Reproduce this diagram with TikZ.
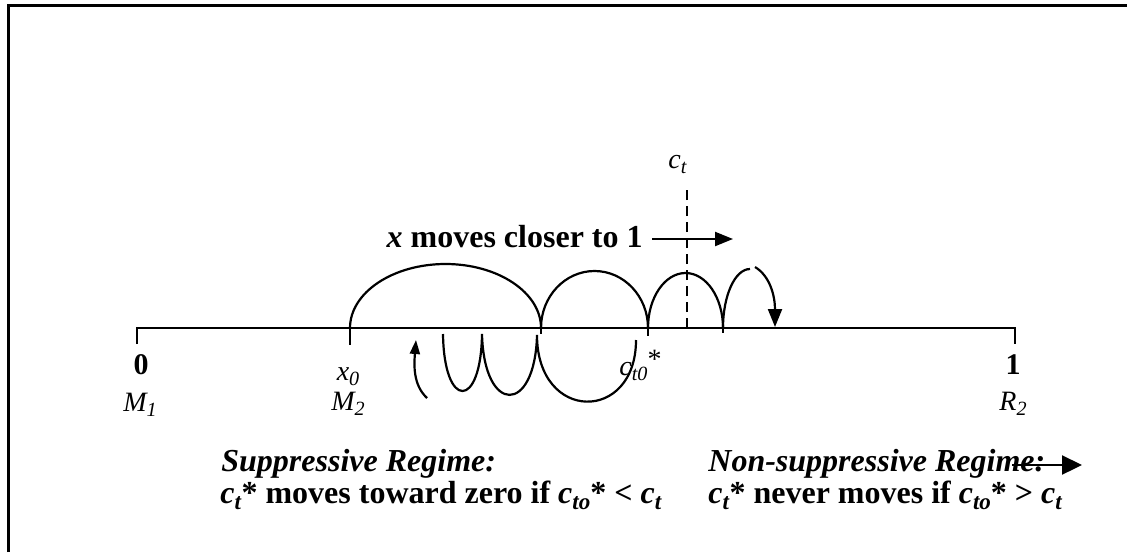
\documentclass[tikz,border=0pt]{standalone}
\usepackage{fontspec}
\setmainfont{Liberation Serif}
\usetikzlibrary{arrows.meta}
\newcommand{\lo}[1]{\raisebox{-0.45ex}{\scalebox{0.72}{#1}}}
\newcommand{\cvar}[1]{\textit{c}\lo{\textit{#1}}}

\begin{document}
\begin{tikzpicture}[
  x=0.5pt, y=-0.5pt,
  line/.style={line width=1.1pt},
  hop/.style={line width=1.1pt},
  tag/.style={inner sep=0pt, anchor=base, font=\fontsize{14}{16}\selectfont\itshape},
  num/.style={inner sep=0pt, font=\fontsize{15}{17}\selectfont\bfseries},
  note/.style={inner sep=0pt, anchor=base west, font=\fontsize{16}{18}\selectfont\bfseries},
  head/.style={note, font=\fontsize{16}{18}\selectfont\bfseries\itshape},
  >={Triangle[length=9pt,width=7pt]}
]
  \useasboundingbox (0,0) rectangle (1127,552);
  \draw[line width=1.5pt] (8,552) -- (8,5) -- (1127,5);
  % points on the line
  \coordinate (M1) at (137,328);
  \coordinate (R2) at (1015,328);
  \coordinate (x0) at (350,328);
  \coordinate (h1) at (541,328);
  \coordinate (c0) at (648,328);
  \coordinate (h3) at (723,328);
  \coordinate (ct) at (687,328);
  \coordinate (cttop) at (687,187);
  \draw[line] ([yshift=-8pt]M1) -- (M1) -- (R2) -- ([yshift=-8pt]R2);
  \draw[line] (x0) -- ++(0,17);
  \draw[line] (h1) -- ++(0,6);
  \draw[line] (c0) -- ++(0,8);
  \draw[line] (h3) -- ++(0,5);
  \draw[line, dash pattern=on 5pt off 3pt] (ct) -- (cttop);
  % labels
  \node[num] (zero) at (141,365) {0};
  \node[tag] (m1) at (140,411) {M\lo{\textit{1}}};
  \node[num] (one) at (1013,365) {1};
  \node[tag] (r2) at (1013,410) {R\lo{\textit{2}}};
  \node[tag] (x0lab) at (348,380) {x\lo{\textit{0}}};
  \node[tag] (m2) at (348,410) {M\lo{\textit{2}}};
  \node[tag, anchor=base west] (c0lab) at (619,375) {c\lo{\textit{t0}}\raisebox{0.5ex}{\textup{*}}};
  \node[tag, anchor=base west] (ctlab) at (668,168) {c\lo{t}};
  % hops above the line
  \draw[hop] (x0) arc[start angle=180, end angle=360, x radius=95.5, y radius=64];
  \draw[hop] (h1) arc[start angle=180, end angle=360, x radius=53.5, y radius=57];
  \draw[hop] (c0) arc[start angle=180, end angle=360, x radius=37.5, y radius=55];
  \draw[hop] (h3) arc[start angle=180, end angle=270, x radius=27, y radius=59];
  \coordinate (d0) at (755,267);
  \coordinate (d1) at (775,327);
  \draw[hop, ->] (d0) .. controls (770,276) and (775,296) .. (d1);
  % hops below the line
  \coordinate (u0) at (443,334);
  \coordinate (u1) at (482,334);
  \coordinate (u2) at (537,335);
  \coordinate (u3) at (636,340);
  \draw[hop] (u0) .. controls +(1,76) and +(-1,76) .. (u1)
                  .. controls +(2,81) and +(-2,80) .. (u2)
                  .. controls +(0,88) and +(0,83) .. (u3);
  \coordinate (s0) at (427,398);
  \coordinate (s1) at (416,340);
  \draw[hop, -{Triangle[length=7pt,width=5pt]}] (s0) .. controls (413,385) and (414,365) .. (s1);
  % texts
  \node[note, anchor=base east] (move) at (643,247) {\textit{x} moves closer to 1};
  \coordinate (mvA) at (652,239);
  \coordinate (mvB) at (733,239);
  \draw[line, ->] (mvA) -- (mvB);
  \node[head] (supp) at (221,471) {Suppressive Regime:};
  \node[note] (suppc) at (220,503) {\cvar{t}* moves toward zero if \cvar{to}* < \cvar{t}};
  \node[head] (nons) at (708,471) {Non-suppressive Regime:};
  \node[note] (nonsc) at (708,503) {\cvar{t}* never moves if \cvar{to}* > \cvar{t}};
  \coordinate (nA) at (1012,465);
  \coordinate (nB) at (1082,465);
  \draw[line, -{Triangle[length=10pt,width=9.5pt]}] (nA) -- (nB);
\end{tikzpicture}
\end{document}
